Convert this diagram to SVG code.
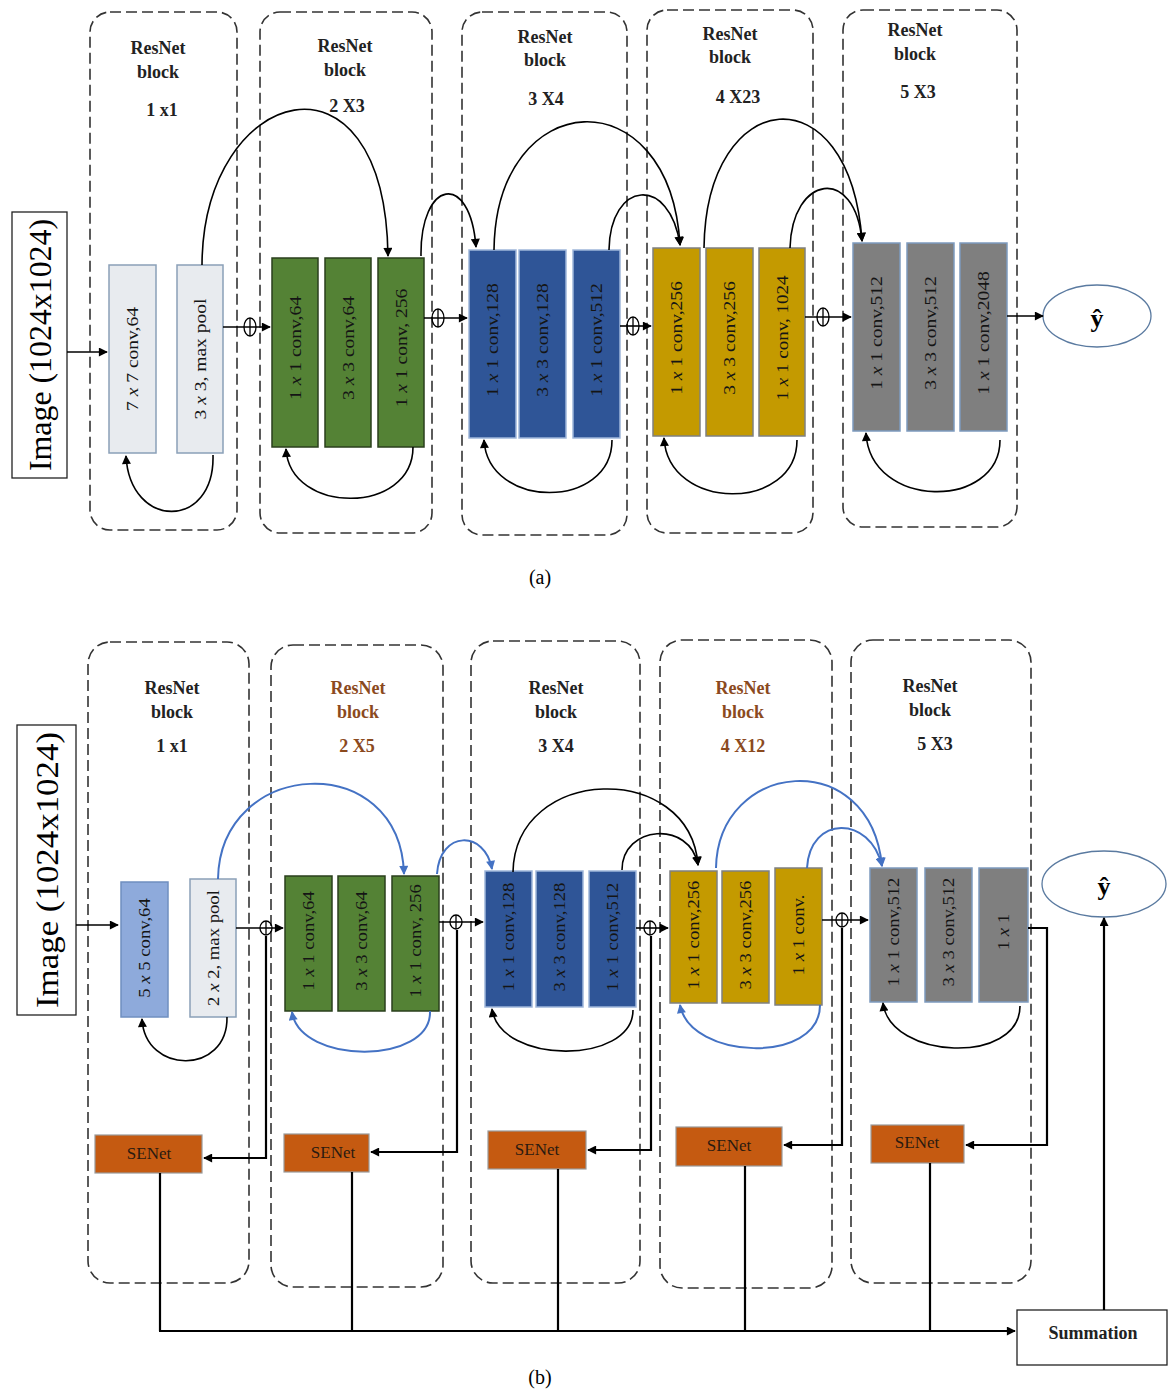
<svg xmlns="http://www.w3.org/2000/svg" width="1169" height="1391" viewBox="0 0 1169 1391">
<defs>
<marker id="ab" viewBox="0 0 10 10" refX="9" refY="5" markerWidth="10" markerHeight="9" markerUnits="userSpaceOnUse" orient="auto"><path d="M0,0 L10,5 L0,10 z" fill="#000"/></marker>
<marker id="au" viewBox="0 0 10 10" refX="9" refY="5" markerWidth="10" markerHeight="9" markerUnits="userSpaceOnUse" orient="auto"><path d="M0,0 L10,5 L0,10 z" fill="#4472c4"/></marker>
</defs>
<style>
.blk{fill:none;stroke:#333;stroke-width:1.6;stroke-dasharray:11,5}
.ttl{font-family:"Liberation Serif",serif;font-weight:bold;font-size:18px;text-anchor:middle;fill:#222}
.brn{fill:#8b4a1e}
.lt{font-family:"Liberation Serif",serif;font-size:17px;text-anchor:middle;dominant-baseline:central;fill:#151515}
.gry{fill:#e8ebef;stroke:#8aa0b8;stroke-width:1.5}
.lbl{fill:#8eaadb;stroke:#6f8fc0;stroke-width:1.5}
.grn{fill:#548235;stroke:#2a3f1c;stroke-width:1.5}
.blu{fill:#2f5597;stroke:#9fb6da;stroke-width:1.5}
.gld{fill:#c49a00;stroke:#7f8080;stroke-width:1.5}
.gr5{fill:#7f7f7f;stroke:#7d9bbf;stroke-width:1.5}
.sen{fill:#c55a11;stroke:#9a9a9a;stroke-width:1.2}
.st{font-family:"Liberation Serif",serif;font-size:17px;text-anchor:middle;dominant-baseline:central;fill:#2a1a10}
.bx{fill:#fff;stroke:#222;stroke-width:1.3}
.ln{fill:none;stroke:#000;stroke-width:1.6}
.lnb{fill:none;stroke:#4472c4;stroke-width:2}
.thk{fill:none;stroke:#000;stroke-width:2.2}
.ox{fill:none;stroke:#000;stroke-width:1.3}
.img{font-family:"Liberation Serif",serif;font-size:31px;text-anchor:middle;dominant-baseline:central;fill:#000}
.cap{font-family:"Liberation Serif",serif;font-size:20px;text-anchor:middle;fill:#000}
.yh{font-family:"Liberation Serif",serif;font-weight:bold;font-size:26px;text-anchor:middle;dominant-baseline:central;fill:#000}
</style>
<rect width="1169" height="1391" fill="#fff"/>

<!-- ===== Panel (a) ===== -->
<g id="a-image"><rect class="bx" x="12" y="212" width="55" height="266"/><text class="img" transform="translate(40,345) rotate(-90)" textLength="252" lengthAdjust="spacingAndGlyphs">Image (1024x1024)</text></g>

<g id="a-block1">
<rect class="blk" x="90" y="12" width="147" height="518" rx="20"/>
<text class="ttl" x="158" y="54">ResNet</text><text class="ttl" x="158" y="78">block</text><text class="ttl" x="162" y="116">1 x1</text>
<rect class="gry" x="109" y="265" width="47" height="188"/><text class="lt" transform="translate(132.5,359) rotate(-90) scale(1.15,1)">7 <tspan font-style="italic">x</tspan> 7 conv,64</text>
<rect class="gry" x="177" y="265" width="46" height="188"/><text class="lt" transform="translate(200,359) rotate(-90) scale(1.15,1)">3 <tspan font-style="italic">x</tspan> 3, max pool</text>
</g>
<g id="a-block2">
<rect class="blk" x="260" y="12" width="172" height="521" rx="20"/>
<text class="ttl" x="345" y="52">ResNet</text><text class="ttl" x="345" y="76">block</text><text class="ttl" x="347" y="112">2 X3</text>
<rect class="grn" x="272" y="258" width="46" height="189"/><text class="lt" transform="translate(295,348) rotate(-90) scale(1.15,1)">1 <tspan font-style="italic">x</tspan> 1 conv,64</text>
<rect class="grn" x="325" y="258" width="46" height="189"/><text class="lt" transform="translate(348,348) rotate(-90) scale(1.15,1)">3 <tspan font-style="italic">x</tspan> 3 conv,64</text>
<rect class="grn" x="378" y="258" width="46" height="189"/><text class="lt" transform="translate(401,348) rotate(-90) scale(1.15,1)">1 <tspan font-style="italic">x</tspan> 1 conv, 256</text>
</g>
<g id="a-block3">
<rect class="blk" x="462" y="12" width="165" height="523" rx="20"/>
<text class="ttl" x="545" y="43">ResNet</text><text class="ttl" x="545" y="66">block</text><text class="ttl" x="546" y="105">3 X4</text>
<rect class="blu" x="469" y="250" width="47" height="188"/><text class="lt" transform="translate(492.5,340) rotate(-90) scale(1.15,1)">1 <tspan font-style="italic">x</tspan> 1 conv,128</text>
<rect class="blu" x="519" y="250" width="47" height="188"/><text class="lt" transform="translate(542.5,340) rotate(-90) scale(1.15,1)">3 <tspan font-style="italic">x</tspan> 3 conv,128</text>
<rect class="blu" x="573" y="250" width="47" height="188"/><text class="lt" transform="translate(596.5,340) rotate(-90) scale(1.15,1)">1 <tspan font-style="italic">x</tspan> 1 conv,512</text>
</g>
<g id="a-block4">
<rect class="blk" x="647" y="10" width="166" height="523" rx="20"/>
<text class="ttl" x="730" y="40">ResNet</text><text class="ttl" x="730" y="63">block</text><text class="ttl" x="738" y="103">4 X23</text>
<rect class="gld" x="653" y="248" width="47" height="188"/><text class="lt" transform="translate(676.5,338) rotate(-90) scale(1.15,1)">1 <tspan font-style="italic">x</tspan> 1 conv,256</text>
<rect class="gld" x="706" y="248" width="47" height="188"/><text class="lt" transform="translate(729.5,338) rotate(-90) scale(1.15,1)">3 <tspan font-style="italic">x</tspan> 3 conv,256</text>
<rect class="gld" x="759" y="248" width="46" height="188"/><text class="lt" transform="translate(782,338) rotate(-90) scale(1.12,1)">1 <tspan font-style="italic">x</tspan> 1 conv, 1024</text>
</g>
<g id="a-block5">
<rect class="blk" x="843" y="10" width="174" height="517" rx="20"/>
<text class="ttl" x="915" y="36">ResNet</text><text class="ttl" x="915" y="60">block</text><text class="ttl" x="918" y="98">5 X3</text>
<rect class="gr5" x="853" y="243" width="47" height="188"/><text class="lt" transform="translate(876.5,333) rotate(-90) scale(1.15,1)">1 <tspan font-style="italic">x</tspan> 1 conv,512</text>
<rect class="gr5" x="907" y="243" width="47" height="188"/><text class="lt" transform="translate(930.5,333) rotate(-90) scale(1.15,1)">3 <tspan font-style="italic">x</tspan> 3 conv,512</text>
<rect class="gr5" x="960" y="243" width="47" height="188"/><text class="lt" transform="translate(983.5,333) rotate(-90) scale(1.15,1)">1 <tspan font-style="italic">x</tspan> 1 conv,2048</text>
</g>
<g id="a-output"><ellipse cx="1097" cy="316" rx="54" ry="31" fill="#fff" stroke="#5a7aa0" stroke-width="1.3"/><text class="yh" x="1097" y="318">ŷ</text></g>
<text class="cap" x="540" y="584">(a)</text>

<g id="a-connectors">
<line class="ln" x1="67" y1="352" x2="107" y2="352" marker-end="url(#ab)"/>
<line class="ln" x1="223" y1="327" x2="270" y2="327" marker-end="url(#ab)"/>
<ellipse class="ox" cx="250" cy="327" rx="6" ry="9"/><line class="ox" x1="250" y1="318" x2="250" y2="336"/>
<line class="ln" x1="424" y1="318" x2="467" y2="318" marker-end="url(#ab)"/>
<ellipse class="ox" cx="438" cy="318" rx="6" ry="9"/><line class="ox" x1="438" y1="309" x2="438" y2="327"/>
<line class="ln" x1="620" y1="326" x2="651" y2="326" marker-end="url(#ab)"/>
<ellipse class="ox" cx="633" cy="326" rx="6" ry="9"/><line class="ox" x1="633" y1="317" x2="633" y2="335"/>
<line class="ln" x1="805" y1="317" x2="851" y2="317" marker-end="url(#ab)"/>
<ellipse class="ox" cx="823" cy="317" rx="6" ry="9"/><line class="ox" x1="823" y1="308" x2="823" y2="326"/>
<line class="ln" x1="1007" y1="316" x2="1043" y2="316" marker-end="url(#ab)"/>
<path class="ln" d="M202,265 C203,85 385,35 388,256" marker-end="url(#ab)"/>
<path class="ln" d="M421,256 C420,180 470,170 476,247" marker-end="url(#ab)"/>
<path class="ln" d="M494,250 C496,85 670,75 680,245" marker-end="url(#ab)"/>
<path class="ln" d="M609,250 C610,180 670,175 680,245" marker-end="url(#ab)"/>
<path class="ln" d="M704,248 C706,85 850,70 862,241" marker-end="url(#ab)"/>
<path class="ln" d="M790,248 C792,175 855,165 862,241" marker-end="url(#ab)"/>
<path class="ln" d="M213,455 C215,530 130,530 126,456" marker-end="url(#ab)"/>
<path class="ln" d="M413,447 C413,515 290,515 286,449" marker-end="url(#ab)"/>
<path class="ln" d="M612,440 C612,510 488,510 484,440" marker-end="url(#ab)"/>
<path class="ln" d="M797,440 C797,512 668,512 664,438" marker-end="url(#ab)"/>
<path class="ln" d="M1000,440 C1000,510 870,510 866,433" marker-end="url(#ab)"/>
</g>

<!-- ===== Panel (b) ===== -->
<g id="b-image"><rect class="bx" x="17" y="725" width="59" height="290"/><text class="img" transform="translate(47,870) rotate(-90)" textLength="276" lengthAdjust="spacingAndGlyphs">Image (1024x1024)</text></g>

<g id="b-block1">
<rect class="blk" x="88" y="642" width="161" height="641" rx="22"/>
<text class="ttl" x="172" y="694">ResNet</text><text class="ttl" x="172" y="718">block</text><text class="ttl" x="172" y="752">1 x1</text>
<rect class="lbl" x="121" y="882" width="47" height="135"/><text class="lt" transform="translate(144.5,948) rotate(-90) scale(1.1,1)">5 <tspan font-style="italic">x</tspan> 5 conv,64</text>
<rect class="gry" x="190" y="879" width="46" height="138"/><text class="lt" transform="translate(213,948) rotate(-90) scale(1.1,1)">2 <tspan font-style="italic">x</tspan> 2, max pool</text>
</g>
<g id="b-block2">
<rect class="blk" x="271" y="645" width="172" height="642" rx="22"/>
<text class="ttl brn" x="358" y="694">ResNet</text><text class="ttl brn" x="358" y="718">block</text><text class="ttl brn" x="357" y="752">2  X5</text>
<rect class="grn" x="285" y="876" width="47" height="135"/><text class="lt" transform="translate(308.5,941) rotate(-90) scale(1.1,1)">1 <tspan font-style="italic">x</tspan> 1 conv,64</text>
<rect class="grn" x="338" y="876" width="47" height="135"/><text class="lt" transform="translate(361.5,941) rotate(-90) scale(1.1,1)">3 <tspan font-style="italic">x</tspan> 3 conv,64</text>
<rect class="grn" x="392" y="876" width="47" height="135"/><text class="lt" transform="translate(415.5,941) rotate(-90) scale(1.1,1)">1 <tspan font-style="italic">x</tspan> 1 conv, 256</text>
</g>
<g id="b-block3">
<rect class="blk" x="471" y="641" width="169" height="642" rx="22"/>
<text class="ttl" x="556" y="694">ResNet</text><text class="ttl" x="556" y="718">block</text><text class="ttl" x="556" y="752">3 X4</text>
<rect class="blu" x="485" y="871" width="47" height="136"/><text class="lt" transform="translate(508.5,937) rotate(-90) scale(1.1,1)">1 <tspan font-style="italic">x</tspan> 1 conv,128</text>
<rect class="blu" x="536" y="871" width="47" height="136"/><text class="lt" transform="translate(559.5,937) rotate(-90) scale(1.1,1)">3 <tspan font-style="italic">x</tspan> 3 conv,128</text>
<rect class="blu" x="589" y="871" width="47" height="136"/><text class="lt" transform="translate(612.5,937) rotate(-90) scale(1.1,1)">1 <tspan font-style="italic">x</tspan> 1 conv,512</text>
</g>
<g id="b-block4">
<rect class="blk" x="660" y="640" width="172" height="648" rx="22"/>
<text class="ttl brn" x="743" y="694">ResNet</text><text class="ttl brn" x="743" y="718">block</text><text class="ttl brn" x="743" y="752">4 X12</text>
<rect class="gld" x="670" y="871" width="47" height="132"/><text class="lt" transform="translate(693.5,935) rotate(-90) scale(1.1,1)">1 <tspan font-style="italic">x</tspan> 1 conv,256</text>
<rect class="gld" x="722" y="871" width="47" height="132"/><text class="lt" transform="translate(745.5,935) rotate(-90) scale(1.1,1)">3 <tspan font-style="italic">x</tspan> 3 conv,256</text>
<rect class="gld" x="775" y="868" width="47" height="137"/><text class="lt" transform="translate(798.5,935) rotate(-90) scale(1.1,1)">1 <tspan font-style="italic">x</tspan> 1 conv.</text>
</g>
<g id="b-block5">
<rect class="blk" x="851" y="640" width="180" height="643" rx="22"/>
<text class="ttl" x="930" y="692">ResNet</text><text class="ttl" x="930" y="716">block</text><text class="ttl" x="935" y="750">5 X3</text>
<rect class="gr5" x="870" y="868" width="47" height="134"/><text class="lt" transform="translate(893.5,932) rotate(-90) scale(1.1,1)">1 <tspan font-style="italic">x</tspan> 1 conv,512</text>
<rect class="gr5" x="925" y="868" width="47" height="134"/><text class="lt" transform="translate(948.5,932) rotate(-90) scale(1.1,1)">3 <tspan font-style="italic">x</tspan> 3 conv,512</text>
<rect class="gr5" x="979" y="868" width="49" height="134"/><text class="lt" transform="translate(1003.5,932) rotate(-90) scale(1.1,1)">1 <tspan font-style="italic">x</tspan> 1</text>
</g>

<g id="b-senet1"><rect class="sen" x="95" y="1135" width="107" height="38"/><text class="st" x="149" y="1153">SENet</text></g>
<g id="b-senet2"><rect class="sen" x="284" y="1134" width="85" height="38"/><text class="st" x="333" y="1152">SENet</text></g>
<g id="b-senet3"><rect class="sen" x="488" y="1131" width="98" height="38"/><text class="st" x="537" y="1149">SENet</text></g>
<g id="b-senet4"><rect class="sen" x="676" y="1127" width="106" height="39"/><text class="st" x="729" y="1145">SENet</text></g>
<g id="b-senet5"><rect class="sen" x="871" y="1125" width="93" height="38"/><text class="st" x="917" y="1142">SENet</text></g>

<g id="b-output"><ellipse cx="1104" cy="884" rx="62" ry="33" fill="#fff" stroke="#5a7aa0" stroke-width="1.3"/><text class="yh" x="1104" y="886">ŷ</text></g>
<g id="b-summation"><rect class="bx" x="1017" y="1310" width="150" height="55"/><text class="ttl" x="1093" y="1339">Summation</text></g>
<text class="cap" x="540" y="1384">(b)</text>

<g id="b-connectors">
<line class="ln" x1="76" y1="925" x2="118" y2="925" marker-end="url(#ab)"/>
<line class="ln" x1="236" y1="928" x2="283" y2="928" marker-end="url(#ab)"/>
<ellipse class="ox" cx="266" cy="928" rx="6" ry="7"/><line class="ox" x1="266" y1="921" x2="266" y2="935"/>
<polyline class="thk" points="266,936 266,1158 204,1158" marker-end="url(#ab)"/>
<line class="ln" x1="439" y1="922" x2="483" y2="922" marker-end="url(#ab)"/>
<ellipse class="ox" cx="456" cy="922" rx="6" ry="7"/><line class="ox" x1="456" y1="915" x2="456" y2="929"/>
<polyline class="thk" points="457,930 457,1152 371,1152" marker-end="url(#ab)"/>
<line class="ln" x1="636" y1="928" x2="668" y2="928" marker-end="url(#ab)"/>
<ellipse class="ox" cx="650" cy="928" rx="6" ry="7"/><line class="ox" x1="650" y1="921" x2="650" y2="935"/>
<polyline class="thk" points="651,936 651,1150 588,1150" marker-end="url(#ab)"/>
<line class="ln" x1="822" y1="920" x2="868" y2="920" marker-end="url(#ab)"/>
<ellipse class="ox" cx="842" cy="920" rx="6" ry="7"/><line class="ox" x1="842" y1="913" x2="842" y2="927"/>
<polyline class="thk" points="842,928 842,1145 784,1145" marker-end="url(#ab)"/>
<polyline class="thk" points="1028,928 1047,928 1047,1145 966,1145" marker-end="url(#ab)"/>
<line class="thk" x1="160" y1="1173" x2="160" y2="1331"/>
<line class="thk" x1="352" y1="1172" x2="352" y2="1331"/>
<line class="thk" x1="558" y1="1169" x2="558" y2="1331"/>
<line class="thk" x1="745" y1="1166" x2="745" y2="1331"/>
<line class="thk" x1="930" y1="1163" x2="930" y2="1331"/>
<line class="thk" x1="159" y1="1331" x2="1015" y2="1331" marker-end="url(#ab)"/>
<line class="thk" x1="1104" y1="1310" x2="1104" y2="918" marker-end="url(#ab)"/>
<path class="lnb" d="M218,879 C220,758 400,748 404,874" marker-end="url(#au)"/>
<path class="lnb" d="M437,874 C440,830 485,830 492,869" marker-end="url(#au)"/>
<path class="ln" d="M513,872 C515,765 690,760 698,865" marker-end="url(#ab)"/>
<path class="ln" d="M622,870 C622,825 690,820 698,865" marker-end="url(#ab)"/>
<path class="lnb" d="M716,868 C718,760 870,745 882,866" marker-end="url(#au)"/>
<path class="lnb" d="M807,868 C810,815 870,815 882,866" marker-end="url(#au)"/>
<path class="ln" d="M227,1017 C228,1075 145,1075 142,1019" marker-end="url(#ab)"/>
<path class="lnb" d="M430,1011 C432,1065 300,1065 292,1012" marker-end="url(#au)"/>
<path class="ln" d="M633,1010 C633,1065 500,1065 492,1009" marker-end="url(#ab)"/>
<path class="lnb" d="M820,1005 C820,1065 690,1060 680,1005" marker-end="url(#au)"/>
<path class="ln" d="M1020,1006 C1020,1065 890,1060 883,1003" marker-end="url(#ab)"/>
</g>
</svg>
